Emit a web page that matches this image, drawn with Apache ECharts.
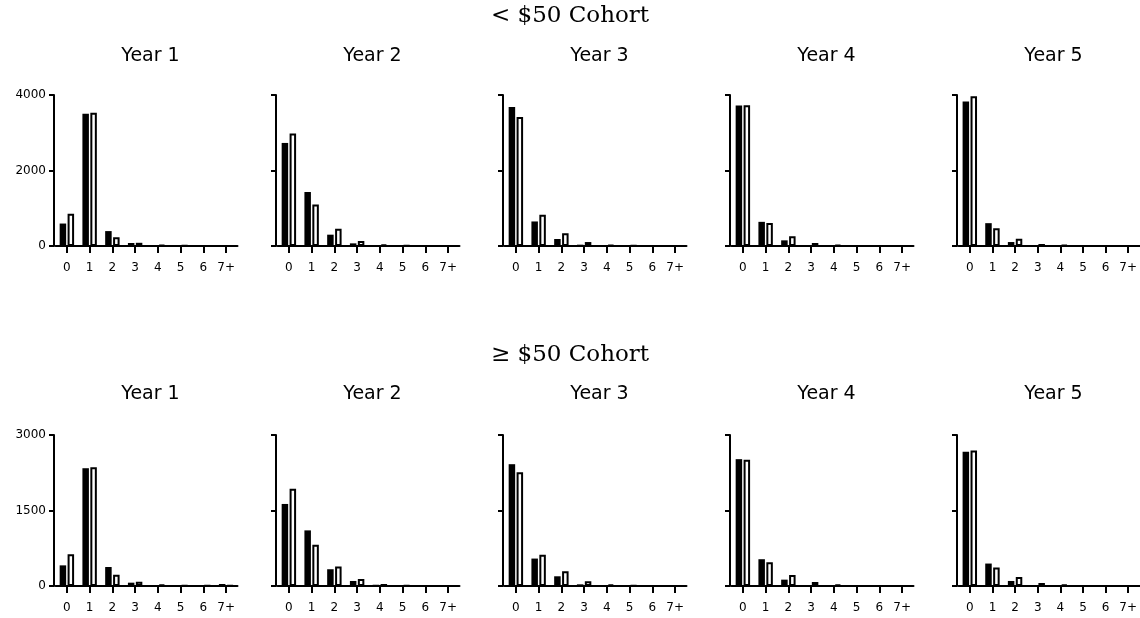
<!DOCTYPE html>
<html>
<head>
<meta charset="utf-8">
<script src="https://cdn.jsdelivr.net/npm/echarts@6/dist/echarts.min.js"></script>
<style>html,body{margin:0;padding:0;background:#fff}#c{width:1140px;height:618px}</style>
</head>
<body>
<div id="c"></div>
<script>
// ---- data ----
const categories = ['0', '1', '2', '3', '4', '5', '6', '7+'];
const years = ['Year 1', 'Year 2', 'Year 3', 'Year 4', 'Year 5'];
const cohortTitles = ['< $50 Cohort', '\u2265 $50 Cohort'];
const lowTicks = [0, 2000, 4000];
const highTicks = [0, 1500, 3000];

// < $50 cohort: filled (black) bars, one row per year
const lowFilled = [
  [595, 3505, 395, 80, 8, 8, 4, 2],
  [2730, 1430, 300, 70, 15, 5, 2, 0],
  [3680, 650, 185, 35, 6, 3, 1, 0],
  [3725, 640, 150, 27, 5, 3, 1, 0],
  [3830, 605, 105, 18, 5, 3, 1, 0]
];
// < $50 cohort: open (white) bars
const lowOpen = [
  [855, 3530, 230, 85, 30, 10, 5, 2],
  [2980, 1100, 460, 135, 35, 10, 3, 0],
  [3415, 825, 335, 105, 27, 8, 2, 0],
  [3730, 612, 255, 80, 30, 5, 2, 0],
  [3965, 470, 195, 53, 25, 4, 1, 0]
];
// >= $50 cohort: filled (black) bars
const highFilled = [
  [410, 2340, 377, 66, 15, 8, 5, 40],
  [1630, 1105, 333, 100, 25, 5, 3, 0],
  [2420, 545, 193, 33, 5, 3, 1, 0],
  [2520, 532, 126, 20, 5, 3, 1, 0],
  [2667, 446, 100, 10, 3, 2, 1, 0]
];
// >= $50 cohort: open (white) bars
const highOpen = [
  [630, 2358, 225, 86, 25, 8, 5, 10],
  [1930, 818, 386, 140, 40, 10, 3, 0],
  [2262, 619, 293, 93, 30, 8, 2, 0],
  [2508, 472, 220, 80, 25, 4, 1, 0],
  [2694, 366, 180, 60, 25, 3, 1, 0]
];

// ---- layout ----
const colLeft = [55.5, 277.5, 504.5, 731.5, 958.5];
const colWidth = 182;
const rowTop = [95, 435];
const rowHeight = 151;
const FONT = 'DejaVu Sans';

const chart = echarts.init(document.getElementById('c'), null, {renderer: 'canvas'});

const grids = [], xAxes = [], yAxes = [], series = [], titles = [];

titles.push({text: cohortTitles[0], left: 'center', top: 0,
  textStyle: {fontFamily: 'DejaVu Serif', fontSize: 23, fontWeight: 'normal', color: '#000'}});
titles.push({text: cohortTitles[1], left: 'center', top: 339,
  textStyle: {fontFamily: 'DejaVu Serif', fontSize: 23, fontWeight: 'normal', color: '#000'}});

const rows = [
  {filled: lowFilled, open: lowOpen, ticks: lowTicks},
  {filled: highFilled, open: highOpen, ticks: highTicks}
];

rows.forEach((row, r) => {
  years.forEach((yr, c) => {
    const idx = grids.length;
    grids.push({left: colLeft[c], top: rowTop[r], width: colWidth, height: rowHeight, containLabel: false});
    titles.push({text: yr, left: colLeft[c] + colWidth / 2 - 1, top: rowTop[r] - (r === 0 ? 53 : 55), textAlign: 'center',
      textStyle: {fontFamily: FONT, fontSize: 19, fontWeight: 'normal', color: '#000'}});
    xAxes.push({
      type: 'category', gridIndex: idx, data: categories, boundaryGap: true,
      axisLine: {show: true, lineStyle: {color: '#000', width: 2}},
      axisTick: {show: true, alignWithLabel: true, length: 7, lineStyle: {color: '#000', width: 2}},
      axisLabel: {show: true, color: '#000', fontFamily: FONT, fontSize: 12, margin: 16, interval: 0}
    });
    const t = row.ticks;
    yAxes.push({
      type: 'value', gridIndex: idx, min: t[0], max: t[2], interval: t[1] - t[0],
      offset: 1.5,
      splitLine: {show: false},
      axisLine: {show: true, lineStyle: {color: '#000', width: 2}},
      axisTick: {show: true, length: 5, lineStyle: {color: '#000', width: 2}},
      axisLabel: {show: c === 0, color: '#000', fontFamily: FONT, fontSize: 12, margin: 8,
        formatter: v => String(v)}
    });
    series.push({
      type: 'bar', name: 'filled', xAxisIndex: idx, yAxisIndex: idx,
      data: row.filled[c], barWidth: 6.5, barGap: '22%',
      itemStyle: {color: '#000'}, silent: true
    });
    series.push({
      type: 'bar', name: 'open', xAxisIndex: idx, yAxisIndex: idx,
      data: row.open[c], barWidth: 6.5, barGap: '22%',
      itemStyle: {color: '#fff', borderColor: '#000', borderWidth: 2}, silent: true
    });
  });
});

chart.setOption({
  animation: false,
  backgroundColor: '#fff',
  title: titles,
  grid: grids,
  xAxis: xAxes,
  yAxis: yAxes,
  series: series
});
</script>
</body>
</html>
